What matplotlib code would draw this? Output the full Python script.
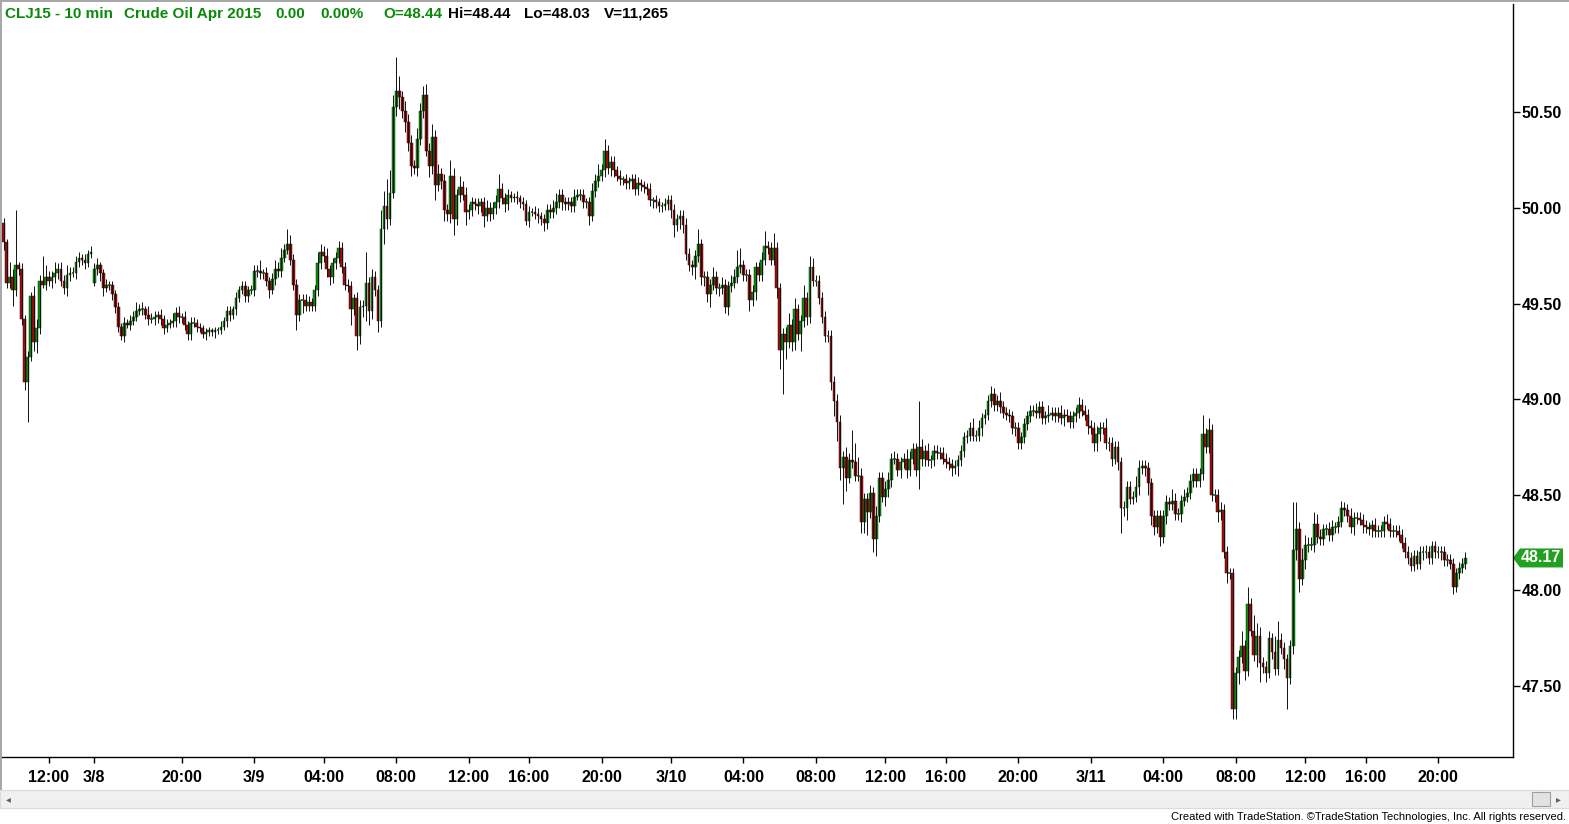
import numpy as np
import matplotlib.pyplot as plt
from matplotlib.patches import Polygon, Rectangle
from matplotlib.transforms import blended_transform_factory

plt.rcParams['font.family'] = ['Liberation Sans', 'DejaVu Sans']

# 10 min bars, closes (segments left to right)
close_a = [49.82, 49.61, 49.64, 49.57, 49.70, 49.68, 49.42, 49.09, 49.22, 49.54,
           49.30, 49.37, 49.62, 49.60, 49.64, 49.62, 49.64, 49.66, 49.68, 49.62,
           49.58, 49.65, 49.66, 49.66, 49.72, 49.74, 49.73, 49.71, 49.76, 49.77,
           49.68, 49.70, 49.66, 49.58, 49.60, 49.60, 49.55, 49.48, 49.38, 49.33,
           49.40, 49.39, 49.41, 49.43, 49.46, 49.47, 49.47, 49.44, 49.42, 49.42,
           49.43, 49.44, 49.42, 49.37, 49.39, 49.40, 49.41, 49.45, 49.43, 49.43,
           49.39, 49.34, 49.40, 49.40, 49.38]
close_b = [49.37, 49.34, 49.35, 49.36, 49.35, 49.36, 49.36, 49.38, 49.41, 49.46,
           49.44, 49.47, 49.53, 49.57, 49.59, 49.54, 49.57, 49.57, 49.67, 49.67,
           49.66, 49.66, 49.62, 49.57, 49.63, 49.68, 49.67, 49.74, 49.78, 49.81,
           49.73, 49.60, 49.44, 49.52, 49.52, 49.49, 49.51, 49.49, 49.57, 49.71,
           49.77, 49.75, 49.68, 49.64, 49.71, 49.74, 49.79, 49.69, 49.60, 49.59,
           49.47, 49.53, 49.33, 49.48, 49.49, 49.61, 49.46, 49.64, 49.57, 49.41,
           49.89, 50.01, 49.94, 50.08, 50.53, 50.61, 50.58]
close_c = [50.51, 50.45, 50.34, 50.22, 50.21, 50.36, 50.51, 50.59, 50.30, 50.22,
           50.37, 50.12, 50.18, 50.14, 49.99, 49.97, 50.17, 49.94, 50.07, 50.11,
           50.07, 49.98, 49.99, 50.03, 50.02, 50.01, 50.03, 49.96, 50.00, 49.97,
           50.00, 50.03, 50.10, 50.05, 50.02, 50.07, 50.05, 50.06, 50.05, 50.03,
           50.02, 49.93, 49.98, 49.98, 49.97, 49.96, 49.94, 49.92, 49.99, 49.98,
           50.00, 50.03, 50.07, 50.03, 50.02, 50.03, 50.01, 50.06, 50.07, 50.07,
           50.03, 50.03, 49.96, 50.09, 50.14, 50.17, 50.20, 50.30, 50.21, 50.24]
close_d = [50.20, 50.17, 50.15, 50.15, 50.13, 50.14, 50.15, 50.10, 50.13, 50.12,
           50.11, 50.10, 50.04, 50.04, 50.03, 50.01, 50.01, 50.02, 50.04, 49.99,
           49.91, 49.94, 49.96, 49.91, 49.76, 49.70, 49.69, 49.75, 49.81, 49.64,
           49.64, 49.55, 49.60, 49.64, 49.58, 49.58, 49.60, 49.48, 49.59, 49.61,
           49.64, 49.69, 49.70, 49.65, 49.65, 49.52, 49.56, 49.69, 49.65, 49.73,
           49.80, 49.79, 49.73, 49.79, 49.58, 49.26, 49.34, 49.30, 49.39, 49.30,
           49.47, 49.34, 49.41, 49.53, 49.43, 49.69, 49.62, 49.62, 49.53, 49.43,
           49.33, 49.33]
close_e = [49.09, 48.99, 48.88, 48.64, 48.70, 48.59, 48.68, 48.67, 48.60, 48.60,
           48.36, 48.48, 48.41, 48.51, 48.27, 48.39, 48.59, 48.49, 48.53, 48.58,
           48.69, 48.69, 48.63, 48.67, 48.69, 48.63, 48.69, 48.74, 48.63, 48.75,
           48.69, 48.73, 48.68, 48.68, 48.73, 48.72, 48.72, 48.69, 48.67, 48.66,
           48.64, 48.65, 48.68, 48.73, 48.80, 48.81, 48.85, 48.81, 48.81, 48.85,
           48.90, 48.92, 48.99, 49.03, 48.97]
close_f = [48.99, 48.96, 48.93, 48.92, 48.91, 48.85, 48.85, 48.77, 48.80, 48.87,
           48.91, 48.94, 48.94, 48.93, 48.96, 48.90, 48.91, 48.92, 48.93, 48.91,
           48.93, 48.90, 48.92, 48.91, 48.88, 48.91, 48.93, 48.97, 48.94, 48.92,
           48.86, 48.85, 48.77, 48.82, 48.85, 48.85, 48.77, 48.77, 48.69, 48.75,
           48.67, 48.43, 48.43, 48.54, 48.48, 48.49, 48.54, 48.64, 48.65, 48.64,
           48.56, 48.39, 48.33, 48.39, 48.28, 48.39, 48.46, 48.45, 48.47, 48.40,
           48.40]
close_g = [48.47, 48.49, 48.51, 48.57, 48.61, 48.57, 48.61, 48.82, 48.75, 48.84,
           48.50, 48.50, 48.41, 48.42, 48.20, 48.09, 48.09, 47.38, 47.57, 47.65,
           47.71, 47.58, 47.93, 47.79, 47.66, 47.76, 47.62, 47.60, 47.57, 47.75,
           47.68, 47.59, 47.74, 47.70, 47.64, 47.54, 47.71]
close_h = [48.21, 48.32, 48.06, 48.16, 48.24, 48.24, 48.24, 48.35, 48.28, 48.27,
           48.32, 48.32, 48.29, 48.33, 48.33, 48.36, 48.43, 48.42, 48.39, 48.33,
           48.38, 48.38, 48.37, 48.34, 48.33, 48.32, 48.34, 48.31, 48.31, 48.31,
           48.36, 48.35, 48.31, 48.31, 48.31, 48.29, 48.25, 48.20, 48.17, 48.13,
           48.18, 48.14, 48.20, 48.20, 48.20, 48.17, 48.23, 48.20, 48.20, 48.20,
           48.16, 48.16, 48.14, 48.02, 48.09, 48.12, 48.14, 48.17]

# wick length above / below the body, in cents
up_a = [3, 2, 8, 4, 29, 2, 3, 2, 3, 2, 5, 5, 3, 13, 6, 3, 3, 6, 3, 4,
        3, 5, 3, 3, 3, 3, 2, 3, 2, 3, 3, 4, 2, 2, 3, 2, 2, 2, 3, 2,
        3, 2, 3, 3, 5, 3, 4, 2, 5, 3, 3, 2, 3, 2, 3, 2, 4, 3, 4, 2,
        3, 2, 3, 3, 2]
dn_a = [4, 3, 3, 8, 3, 3, 3, 4, 21, 2, 5, 6, 3, 2, 3, 3, 4, 3, 3, 3,
        3, 4, 3, 2, 3, 3, 3, 3, 2, 2, 2, 3, 4, 4, 2, 3, 3, 3, 3, 2,
        3, 2, 3, 2, 2, 2, 3, 2, 3, 2, 3, 3, 3, 3, 2, 2, 2, 3, 3, 3,
        3, 3, 3, 2, 3]
up_b = [2, 2, 2, 2, 1, 2, 2, 3, 2, 3, 3, 2, 3, 2, 3, 3, 2, 3, 3, 3,
        6, 2, 3, 2, 3, 5, 4, 5, 3, 8, 5, 3, 3, 3, 3, 3, 3, 2, 3, 6,
        4, 3, 4, 2, 3, 3, 4, 3, 3, 3, 3, 2, 3, 4, 3, 16, 3, 4, 3, 3,
        10, 8, 14, 12, 6, 18, 8]
dn_b = [2, 2, 3, 2, 2, 3, 2, 2, 2, 3, 3, 2, 3, 2, 2, 3, 3, 2, 3, 3,
        3, 3, 3, 4, 2, 3, 3, 3, 2, 2, 3, 3, 8, 3, 7, 3, 3, 3, 3, 3,
        3, 3, 4, 4, 3, 3, 3, 3, 3, 3, 8, 3, 7, 4, 5, 8, 7, 4, 3, 6,
        3, 8, 5, 3, 3, 5, 6]
up_c = [3, 5, 4, 4, 3, 6, 4, 5, 6, 4, 7, 4, 5, 3, 4, 3, 8, 4, 3, 6,
        3, 4, 3, 3, 2, 3, 2, 3, 4, 3, 3, 4, 8, 3, 3, 3, 2, 2, 3, 2,
        3, 2, 3, 2, 3, 3, 2, 3, 3, 3, 4, 5, 3, 3, 3, 3, 3, 4, 3, 3,
        3, 2, 3, 4, 4, 6, 3, 6, 3, 3]
dn_c = [4, 5, 4, 5, 3, 4, 3, 4, 3, 6, 4, 8, 3, 4, 6, 4, 5, 8, 3, 4,
        3, 7, 4, 3, 3, 4, 3, 6, 3, 4, 3, 3, 3, 3, 4, 3, 2, 2, 3, 3,
        3, 2, 3, 2, 3, 4, 3, 4, 3, 3, 3, 3, 3, 4, 3, 3, 3, 3, 2, 3,
        3, 3, 5, 3, 3, 3, 3, 4, 3, 4]
up_d = [3, 2, 3, 2, 3, 2, 3, 3, 3, 2, 2, 2, 3, 2, 3, 2, 2, 3, 3, 3,
        3, 3, 3, 3, 4, 3, 3, 3, 8, 3, 3, 3, 3, 5, 3, 3, 4, 3, 3, 4,
        4, 9, 9, 3, 3, 3, 4, 3, 3, 4, 8, 3, 3, 8, 3, 3, 3, 4, 6, 3,
        6, 3, 3, 7, 3, 6, 5, 3, 3, 3, 3, 3]
dn_d = [4, 3, 3, 3, 3, 3, 4, 3, 3, 3, 3, 3, 3, 4, 3, 3, 3, 2, 3, 4,
        6, 3, 5, 4, 3, 3, 4, 6, 3, 4, 5, 4, 7, 3, 3, 4, 3, 3, 4, 3,
        3, 3, 3, 3, 3, 6, 3, 4, 3, 3, 3, 3, 3, 3, 5, 10, 23, 9, 3, 5,
        4, 3, 9, 3, 4, 3, 3, 3, 3, 3, 3, 3]
up_e = [3, 3, 4, 4, 3, 5, 4, 16, 10, 10, 4, 3, 3, 4, 3, 5, 3, 3, 4, 4,
        3, 4, 3, 3, 3, 5, 4, 3, 3, 24, 4, 3, 4, 3, 3, 3, 3, 3, 3, 3,
        3, 3, 3, 3, 3, 3, 3, 5, 3, 4, 3, 3, 3, 4, 3]
dn_e = [4, 8, 10, 6, 19, 7, 3, 3, 3, 3, 6, 6, 12, 3, 7, 9, 3, 3, 5, 4,
        4, 3, 3, 4, 3, 4, 3, 3, 3, 10, 4, 4, 3, 4, 3, 3, 3, 3, 3, 3,
        4, 3, 5, 3, 3, 3, 3, 3, 3, 3, 4, 3, 3, 3, 3]
up_f = [3, 5, 3, 3, 3, 3, 3, 3, 3, 3, 3, 3, 3, 4, 3, 3, 3, 5, 3, 3,
        3, 4, 3, 3, 3, 3, 3, 4, 3, 3, 3, 3, 3, 4, 3, 3, 5, 3, 3, 3,
        3, 3, 4, 3, 3, 3, 6, 4, 3, 3, 3, 3, 3, 3, 3, 3, 4, 3, 6, 4,
        3]
dn_f = [3, 3, 3, 3, 3, 3, 4, 3, 3, 3, 3, 3, 3, 3, 3, 3, 3, 3, 3, 3,
        3, 3, 4, 3, 3, 3, 3, 3, 3, 3, 4, 3, 4, 4, 4, 3, 3, 4, 4, 3,
        4, 13, 4, 6, 3, 3, 3, 4, 3, 4, 6, 5, 4, 3, 5, 3, 4, 3, 3, 3,
        3]
up_g = [3, 4, 3, 4, 3, 3, 3, 10, 3, 6, 3, 3, 3, 4, 3, 3, 3, 3, 3, 4,
        8, 3, 9, 3, 8, 7, 5, 3, 3, 4, 3, 8, 10, 4, 3, 3, 3]
dn_g = [4, 3, 3, 3, 3, 3, 3, 3, 3, 3, 3, 4, 5, 4, 3, 5, 3, 5, 5, 6,
        3, 5, 3, 3, 3, 6, 10, 3, 5, 3, 4, 3, 3, 3, 5, 16, 3]
up_h = [25, 14, 4, 6, 5, 4, 4, 6, 5, 4, 3, 3, 4, 4, 3, 3, 4, 3, 3, 4,
        3, 3, 3, 3, 3, 3, 3, 4, 3, 3, 3, 4, 3, 3, 3, 3, 3, 3, 3, 3,
        3, 3, 3, 3, 4, 3, 3, 3, 3, 3, 3, 3, 3, 3, 3, 3, 3, 3]
dn_h = [4, 5, 7, 3, 5, 4, 3, 4, 3, 3, 3, 3, 3, 3, 3, 3, 3, 3, 3, 3,
        4, 3, 3, 4, 3, 3, 4, 3, 3, 3, 3, 3, 3, 3, 3, 3, 3, 3, 3, 3,
        3, 3, 3, 4, 3, 3, 3, 3, 3, 4, 3, 3, 3, 4, 3, 3, 3, 3]

first_open = 49.92
session_open = {30: 49.61}   # Sunday evening open

tick_idx = [15, 30, 59, 83, 106, 130, 154, 174, 198, 221, 245,
            269, 292, 312, 336, 360, 384, 408, 431, 451, 475]
tick_lbl = ['12:00', '3/8', '20:00', '3/9', '04:00', '08:00', '12:00', '16:00',
            '20:00', '3/10', '04:00', '08:00', '12:00', '16:00', '20:00', '3/11',
            '04:00', '08:00', '12:00', '16:00', '20:00']
price_ticks = [47.5, 48.0, 48.5, 49.0, 49.5, 50.0, 50.5]
last_price = 48.17

closes = np.array(close_a + close_b + close_c + close_d + close_e + close_f + close_g + close_h)
up = np.array(up_a + up_b + up_c + up_d + up_e + up_f + up_g + up_h) / 100
dn = np.array(dn_a + dn_b + dn_c + dn_d + dn_e + dn_f + dn_g + dn_h) / 100
opens = np.r_[first_open, closes[:-1]]
for k, v in session_open.items():
    opens[k] = v
top = np.maximum(opens, closes)
bot = np.minimum(opens, closes)
highs = top + up
lows = bot - dn
x = np.arange(len(closes))

W, H = 1569, 824
fig = plt.figure(figsize=(W / 100, H / 100), dpi=100)
ax = fig.add_axes([2 / W, (H - 757) / H, 1511 / W, 753 / H])

GREEN = '#0a8a0a'
RED = '#a00c0c'
rising = closes >= opens

ax.vlines(x, lows, highs, color='#111111', lw=0.7)
ax.bar(x[rising], (closes - opens)[rising], bottom=opens[rising], width=0.92,
       color=GREEN, edgecolor='#0c3a0c', linewidth=0.35)
ax.bar(x[~rising], (closes - opens)[~rising], bottom=opens[~rising], width=0.92,
       color=RED, edgecolor='#3a0606', linewidth=0.35)
flat = np.abs(closes - opens) < 0.005
ax.hlines(closes[flat], x[flat] - 0.46, x[flat] + 0.46, color='#1a5a1a', lw=1.1)

ax.set_xlim(-0.5, 499.8)
ax.set_ylim(47.129, 51.067)

ax.spines['top'].set_visible(False)
ax.spines['left'].set_visible(False)
ax.spines['right'].set_linewidth(1)
ax.spines['bottom'].set_linewidth(1)

ax.yaxis.tick_right()
ax.set_yticks(price_ticks)
ax.set_yticklabels([f'{p:.2f}' for p in price_ticks], fontsize=11.5, fontweight='bold')
ax.tick_params(axis='y', direction='out', length=5, width=1, pad=1)
ax.set_xticks(tick_idx)
ax.set_xticklabels(tick_lbl, fontsize=11.5, fontweight='bold')
ax.tick_params(axis='x', direction='out', length=4, width=1, pad=5)

# last price flag
tr = blended_transform_factory(ax.transAxes, ax.transData)
def fx(px):
    return (px - 2) / 1511
h2 = 9.5 / 191.2
flag = Polygon([(fx(1513), last_price), (fx(1520), last_price + h2), (fx(1563), last_price + h2),
                (fx(1563), last_price - h2), (fx(1520), last_price - h2)],
               closed=True, transform=tr, clip_on=False, facecolor='#22a022', edgecolor='none')
ax.add_patch(flag)
ax.text(fx(1541), last_price, f'{last_price:.2f}', transform=tr, ha='center', va='center',
        color='white', fontsize=11.5, fontweight='bold', clip_on=False)

# header
hdr = [(5, 'CLJ15 - 10 min', GREEN), (124, 'Crude Oil Apr 2015', GREEN), (275, '0.00', GREEN),
       (320, '0.00%', GREEN), (383, 'O=48.44', GREEN), (448, 'Hi=48.44', 'black'),
       (524, 'Lo=48.03', 'black'), (604, 'V=11,265', 'black')]
for px, s, c in hdr:
    fig.text(px / W, 1 - 14 / H, s, color=c, fontsize=11, fontweight='bold',
             ha='left', va='center')

# window chrome: borders, scrollbar, footer
fig.add_artist(Rectangle((0, 1 - 2 / H), 1, 2 / H, transform=fig.transFigure,
                         facecolor='#a8a8a8', edgecolor='none'))
fig.add_artist(Rectangle((0, (H - 790) / H), 2 / W, 788 / H, transform=fig.transFigure,
                         facecolor='#a8a8a8', edgecolor='none'))
fig.add_artist(Rectangle((0, (H - 808) / H), 1, 18 / H, transform=fig.transFigure,
                         facecolor='#f0f0f0', edgecolor='#dadada', linewidth=0.8))
fig.add_artist(Rectangle((1532 / W, (H - 806) / H), 18 / W, 14 / H, transform=fig.transFigure,
                         facecolor='#e2e2e2', edgecolor='#a0a0a0', linewidth=0.8))
fig.text(8 / W, 1 - 799 / H, '\u25c2', fontsize=7, color='#606060', ha='center', va='center',
         family=['DejaVu Sans'])
fig.text(1558 / W, 1 - 799 / H, '\u25b8', fontsize=7, color='#606060', ha='center', va='center',
         family=['DejaVu Sans'])
fig.text(1566 / W, 1 - 816.5 / H,
         'Created with TradeStation. \u00a9TradeStation Technologies, Inc. All rights reserved.',
         fontsize=8, color='black', ha='right', va='center',
         family=['Liberation Sans Narrow', 'Liberation Sans'])

fig.savefig('out.png', dpi=100)
